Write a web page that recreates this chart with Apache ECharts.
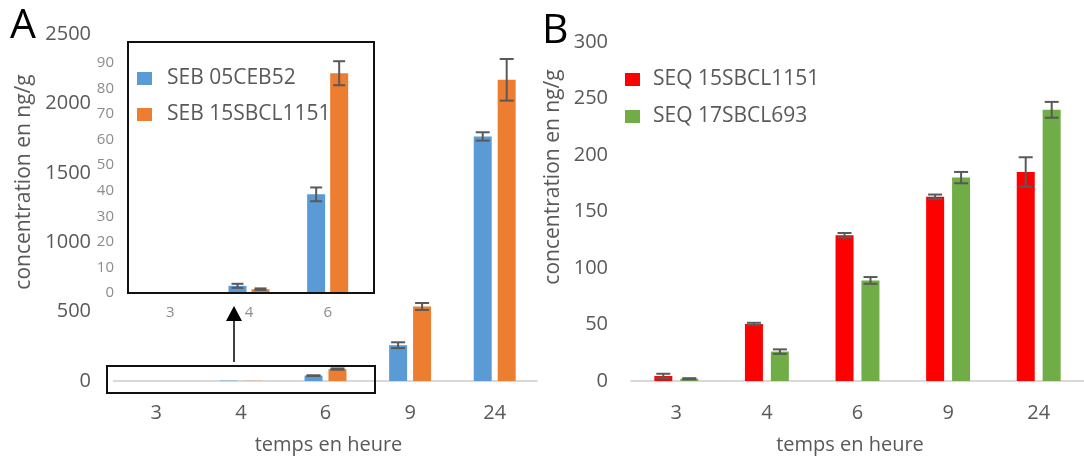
<!DOCTYPE html>
<html>
<head>
<meta charset="utf-8">
<script src="https://cdn.jsdelivr.net/npm/echarts@6/dist/echarts.min.js"></script>
<style>
html,body{margin:0;padding:0;background:#fff;}
#c{width:1084px;height:460px;}
</style>
</head>
<body>
<div id="c"></div>
<script>
// ---- data ----
const hours = ['3', '4', '6', '9', '24'];
const insetHours = ['3', '4', '6'];
const seb05 = [0, 2.8, 38.6, 258, 1762];
const seb05Err = [0, 0.8, 2.7, 21, 30];
const seb15 = [0, 1.5, 86, 537, 2170];
const seb15Err = [0, 0.3, 4.7, 25, 150];
const seq15 = [4.4, 50.5, 129, 163, 185];
const seq15Err = [2, 1, 2, 2, 13];
const seq17 = [2, 26, 89, 180, 240];
const seq17Err = [0.5, 2, 3, 5, 7];
const ticksA = [0, 500, 1000, 1500, 2000, 2500];
const ticksInset = [0, 10, 20, 30, 40, 50, 60, 70, 80, 90];
const ticksB = [0, 50, 100, 150, 200, 250, 300];

const FONT = 'Open Sans';
const GREY = '#595959';
const LGREY = '#8c8c8c';
const BLUE = '#5B9BD5', ORANGE = '#ED7D31', RED = '#FF0000', GREEN = '#70AD47';

function errSeries(name, xi, yi, vals, errs, offset, capHalf) {
  return {
    type: 'custom', name: name, xAxisIndex: xi, yAxisIndex: yi, z: 5, silent: true,
    data: vals.map((v, i) => [i, v, errs[i]]),
    renderItem: function (params, api) {
      const e = api.value(2);
      if (!e) return null;
      const idx = api.value(0), v = api.value(1);
      const top = api.coord([idx, v + e]);
      const bot = api.coord([idx, Math.max(0, v - e)]);
      if (Math.abs(bot[1] - top[1]) < 0.5) return null;
      const x = top[0] + offset;
      const st = { stroke: GREY, lineWidth: 2 };
      return {
        type: 'group', children: [
          { type: 'line', shape: { x1: x, y1: top[1], x2: x, y2: bot[1] }, style: st },
          { type: 'line', shape: { x1: x - capHalf, y1: top[1], x2: x + capHalf, y2: top[1] }, style: st },
          { type: 'line', shape: { x1: x - capHalf, y1: bot[1], x2: x + capHalf, y2: bot[1] }, style: st }
        ]
      };
    }
  };
}

function yAx(gi, ticks, fs, color, margin) {
  return {
    type: 'value', gridIndex: gi, min: ticks[0], max: ticks[ticks.length - 1],
    interval: ticks[1] - ticks[0],
    axisLine: { show: false }, axisTick: { show: false }, splitLine: { show: false },
    axisLabel: { fontFamily: FONT, fontSize: fs, color: color, margin: margin, formatter: v => String(v) }
  };
}

const chart = echarts.init(document.getElementById('c'));
chart.setOption({
  animation: false,
  backgroundColor: '#fff',
  textStyle: { fontFamily: FONT },
  grid: [
    { left: 114, top: 34, width: 423, height: 350 },
    { left: 131, top: 63, width: 236, height: 230 },
    { left: 631, top: 42, width: 463, height: 344 }
  ],
  xAxis: [
    { type: 'category', gridIndex: 0, data: hours,
      axisLine: { lineStyle: { color: '#d9d9d9', width: 2 } }, axisTick: { show: false },
      axisLabel: { fontFamily: FONT, fontSize: 20, color: GREY, margin: 22 },
      name: 'temps en heure', nameLocation: 'middle', nameGap: 54,
      nameTextStyle: { fontFamily: FONT, fontSize: 20, color: GREY, padding: [0, 0, 0, 6] } },
    { type: 'category', gridIndex: 1, data: insetHours,
      axisLine: { show: false }, axisTick: { show: false },
      axisLabel: { fontFamily: FONT, fontSize: 15, color: LGREY, margin: 12 } },
    { type: 'category', gridIndex: 2, data: hours,
      axisLine: { lineStyle: { color: '#d9d9d9', width: 2 } }, axisTick: { show: false },
      axisLabel: { fontFamily: FONT, fontSize: 20, color: GREY, margin: 22 },
      name: 'temps en heure', nameLocation: 'middle', nameGap: 54,
      nameTextStyle: { fontFamily: FONT, fontSize: 20, color: GREY, padding: [0, 15, 0, 0] } }
  ],
  yAxis: [
    yAx(0, ticksA, 20, GREY, 23),
    yAx(1, ticksInset, 15, LGREY, 17),
    yAx(2, ticksB, 20, GREY, 23)
  ],
  legend: [
    { data: ['SEB 05CEB52', 'SEB 15SBCL1151'], orient: 'vertical', left: 137, top: 68,
      itemWidth: 15, itemHeight: 13, itemGap: 15, icon: 'rect', padding: 0,
      textStyle: { fontFamily: FONT, fontSize: 21, color: GREY, padding: [0, 0, 0, 10] } },
    { data: ['SEQ 15SBCL1151', 'SEQ 17SBCL693'], orient: 'vertical', left: 625, top: 69,
      itemWidth: 15, itemHeight: 13, itemGap: 16, icon: 'rect', padding: 0,
      textStyle: { fontFamily: FONT, fontSize: 21, color: GREY, padding: [0, 0, 0, 8] } }
  ],
  graphic: [
    { type: 'text', left: 10, top: 6, style: { text: 'A', font: '41px "Open Sans"', fill: '#000' } },
    { type: 'text', left: 542, top: 11, style: { text: 'B', font: '41px "Open Sans"', fill: '#000' } },
    { type: 'text', x: 24, y: 182, rotation: Math.PI / 2,
      style: { text: 'concentration en ng/g', font: '21px "Open Sans"', fill: GREY, align: 'center', verticalAlign: 'middle' } },
    { type: 'text', x: 553, y: 177, rotation: Math.PI / 2,
      style: { text: 'concentration en ng/g', font: '21px "Open Sans"', fill: GREY, align: 'center', verticalAlign: 'middle' } },
    { type: 'rect', shape: { x: 128, y: 42, width: 246, height: 251 }, style: { fill: 'none', stroke: '#111', lineWidth: 2 }, z: 10 },
    { type: 'rect', shape: { x: 107, y: 366, width: 268, height: 27 }, style: { fill: 'none', stroke: '#111', lineWidth: 2 }, z: 10 },
    { type: 'line', shape: { x1: 234, y1: 362, x2: 234, y2: 318 }, style: { stroke: '#000', lineWidth: 1.5 }, z: 10 },
    { type: 'polygon', shape: { points: [[226, 321], [242, 321], [234, 306]] }, style: { fill: '#000' }, z: 10 }
  ],
  series: [
    { type: 'bar', name: 'SEB 05CEB52', xAxisIndex: 0, yAxisIndex: 0, data: seb05, barWidth: 18, barGap: '33%', itemStyle: { color: BLUE } },
    { type: 'bar', name: 'SEB 15SBCL1151', xAxisIndex: 0, yAxisIndex: 0, data: seb15, barWidth: 18, barGap: '33%', itemStyle: { color: ORANGE } },
    errSeries('errA1', 0, 0, seb05, seb05Err, -12, 7),
    errSeries('errA2', 0, 0, seb15, seb15Err, 12, 7),
    { type: 'bar', name: 'SEB 05CEB52', xAxisIndex: 1, yAxisIndex: 1, data: seb05.slice(0, 3), barWidth: 18, barGap: '28%', itemStyle: { color: BLUE } },
    { type: 'bar', name: 'SEB 15SBCL1151', xAxisIndex: 1, yAxisIndex: 1, data: seb15.slice(0, 3), barWidth: 18, barGap: '28%', itemStyle: { color: ORANGE } },
    errSeries('errI1', 1, 1, seb05.slice(0, 3), seb05Err.slice(0, 3), -11.5, 6),
    errSeries('errI2', 1, 1, seb15.slice(0, 3), seb15Err.slice(0, 3), 11.5, 6),
    { type: 'bar', name: 'SEQ 15SBCL1151', xAxisIndex: 2, yAxisIndex: 2, data: seq15, barWidth: 18, barGap: '44%', itemStyle: { color: RED } },
    { type: 'bar', name: 'SEQ 17SBCL693', xAxisIndex: 2, yAxisIndex: 2, data: seq17, barWidth: 18, barGap: '44%', itemStyle: { color: GREEN } },
    errSeries('errB1', 2, 2, seq15, seq15Err, -13, 7),
    errSeries('errB2', 2, 2, seq17, seq17Err, 13, 7)
  ]
});
</script>
</body>
</html>
